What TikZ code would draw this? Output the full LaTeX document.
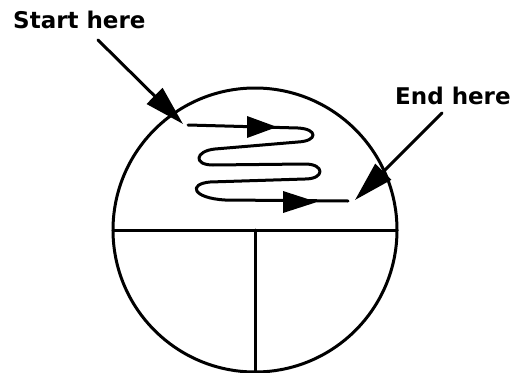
\documentclass[tikz,border=0pt]{standalone}
\usepackage{fontspec}
\setmainfont{DejaVu Sans}
\usetikzlibrary{arrows.meta}
\tikzset{
  lbl/.style={anchor=base west, inner sep=0pt, font=\bfseries\fontsize{23}{23}\selectfont},
  thick line/.style={line width=3pt, line join=round, line cap=round},
  bigtip/.style={-{Triangle[length=40pt,width=22pt]}},
}
\begin{document}
\begin{tikzpicture}[x=1pt,y=-1pt]
  \useasboundingbox (0,0) rectangle (511,372);
  % labels
  \node[lbl] (start) at (13,28) {Start here};
  \node[lbl] (end) at (395,104) {End here};
  % circle and dividers
  \coordinate (c) at (255,230);
  \draw[thick line] (c) circle[radius=142];
  \coordinate (hl) at (113,230);
  \coordinate (hr) at (397,230);
  \coordinate (vb) at (255,372);
  \draw[thick line] (hl) -- (hr);
  \draw[thick line] (c) -- (vb);
  % pointer arrows
  \coordinate (s0) at (98,40);
  \coordinate (s1) at (183,124);
  \coordinate (e0) at (442,113);
  \coordinate (e1) at (355,200);
  \draw[thick line, bigtip] (s0) -- (s1);
  \draw[thick line, bigtip] (e0) -- (e1);
  % zigzag path
  \coordinate (z0) at (188,125);
  \coordinate (z9) at (348,201);
  \draw[thick line] (z0) -- (298,128)
      .. controls (318,129) and (318,141) .. (298,142)
      -- (215,149)
      .. controls (195,151) and (193,165) .. (213,165)
      -- (305,164)
      .. controls (325,164) and (325,179) .. (305,179)
      -- (210,182)
      .. controls (188,184) and (192,198) .. (225,200)
      -- (z9);
  % arrow heads on zigzag
  \fill (277,127) -- (247,116) -- (247,138) -- cycle;
  \fill (317,202) -- (283,191) -- (283,213) -- cycle;
\end{tikzpicture}
\end{document}
